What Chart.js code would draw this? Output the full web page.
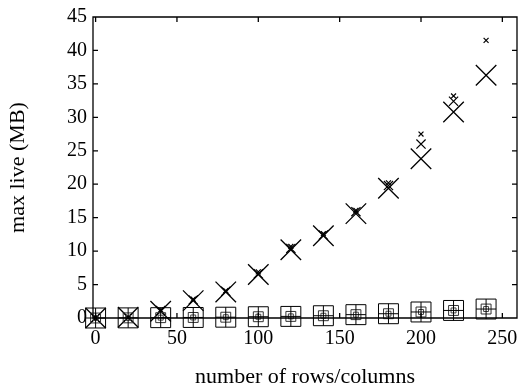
<!DOCTYPE html>
<html>
<head>
<meta charset="utf-8">
<script src="https://cdn.jsdelivr.net/npm/chart.js@4/dist/chart.umd.min.js"></script>
<style>
  html, body { margin: 0; padding: 0; background: #fff; }
  #wrap { width: 525px; height: 387px; }
</style>
</head>
<body>
<div id="wrap"><canvas id="chart"></canvas></div>
<script>
// matrix size (x axis)
var rows = [0, 20, 40, 60, 80, 100, 120, 140, 160, 180, 200, 220, 240];

// max live in MB, three cross series and one square series
var bigCross   = [0, 0.1, 1.0, 2.6, 3.9, 6.5, 10.2, 12.3, 15.6, 19.4, 23.8, 30.8, 36.3];
var midCross   = [0, 0.1, 1.1, 2.7, 4.0, 6.6, 10.4, 12.4, 15.9, 19.8, 26.0, 32.4, null];
var smallCross = [0, 0.1, 1.2, 2.8, 4.1, 6.9, 10.7, 12.6, 16.1, 20.2, 27.5, 33.2, 41.5];
var squares    = [0, 0.02, 0.05, 0.08, 0.12, 0.19, 0.24, 0.34, 0.5, 0.64, 0.9, 1.13, 1.34];

var xTicks = [0, 50, 100, 150, 200, 250];
var yTicks = [0, 5, 10, 15, 20, 25, 30, 35, 40, 45];

function pts(ys) {
    return rows.map(function (x, i) { return { x: x, y: ys[i] }; });
}

function series(ys, style, r, color, w) {
    return {
        data: pts(ys),
        showLine: false,
        pointStyle: style,
        pointRadius: r,
        pointHoverRadius: r,
        borderColor: color,
        backgroundColor: 'rgba(0,0,0,0)',
        borderWidth: w || 1,
        clip: false
    };
}

// gnuplot style frame with ticks on the inside
const framePlugin = {
    id: 'frame',
    afterDatasetsDraw(chart) {
        const c = chart.ctx, a = chart.chartArea;
        const xs = chart.scales.x, ys = chart.scales.y;
        c.save();
        c.strokeStyle = '#000';
        c.lineWidth = 1.3;
        c.beginPath();
        c.rect(a.left, a.top, a.right - a.left, a.bottom - a.top);
        xTicks.forEach(function (v) {
            const p = xs.getPixelForValue(v);
            c.moveTo(p, a.bottom); c.lineTo(p, a.bottom - 5);
            c.moveTo(p, a.top); c.lineTo(p, a.top + 5);
        });
        yTicks.forEach(function (v) {
            const p = ys.getPixelForValue(v);
            c.moveTo(a.left, p); c.lineTo(a.left + 5, p);
            c.moveTo(a.right, p); c.lineTo(a.right - 5, p);
        });
        c.stroke();
        c.restore();
    }
};

const tickFont = { family: 'Liberation Serif', size: 20 };
const titleFont = { family: 'Liberation Serif', size: 22, lineHeight: 0.9 };

const ctx = document.getElementById('chart').getContext('2d');
const memChart = new Chart(ctx, {
    type: 'scatter',
    data: {
        datasets: [
            series(squares, 'rect', 14.1, '#000'),
            series(squares, 'cross', 10, '#000'),
            series(squares, 'rect', 7, '#333'),
            series(squares, 'rect', 3.5, '#444'),
            series(bigCross, 'crossRot', 14.5, '#000', 1.3),
            series(midCross, 'crossRot', 6.5, '#000', 1.2),
            series(smallCross, 'crossRot', 3.5, '#000', 1.2)
        ]
    },
    plugins: [framePlugin],
    options: {
        responsive: true,
        maintainAspectRatio: false,
        animation: false,
        events: [],
        layout: { autoPadding: false, padding: { top: 17, right: 8, left: 0, bottom: 0 } },
        plugins: {
            legend: { display: false },
            tooltip: { enabled: false }
        },
        scales: {
            x: {
                type: 'linear',
                min: -1.6,
                max: 259,
                afterBuildTicks: function (s) { s.ticks = xTicks.map(function (v) { return { value: v }; }); },
                afterFit: function (s) { s.height = 69; s.paddingLeft = 0; s.paddingRight = 0; },
                grid: { display: false, drawTicks: false },
                border: { display: false },
                ticks: { color: '#000', font: tickFont, padding: 9, maxRotation: 0 },
                title: {
                    display: true,
                    text: 'number of rows/columns',
                    color: '#000',
                    font: titleFont,
                    padding: { top: 0, bottom: 0 }
                }
            },
            y: {
                type: 'linear',
                min: 0,
                max: 45,
                afterBuildTicks: function (s) { s.ticks = yTicks.map(function (v) { return { value: v }; }); },
                afterFit: function (s) { s.width = 93; s.paddingTop = 0; s.paddingBottom = 0; },
                grid: { display: false, drawTicks: false },
                border: { display: false },
                ticks: { color: '#000', font: tickFont, padding: 6 },
                title: {
                    display: true,
                    text: 'max live (MB)',
                    color: '#000',
                    font: titleFont,
                    padding: { top: 8, bottom: 0 }
                }
            }
        }
    }
});
</script>
</body>
</html>
